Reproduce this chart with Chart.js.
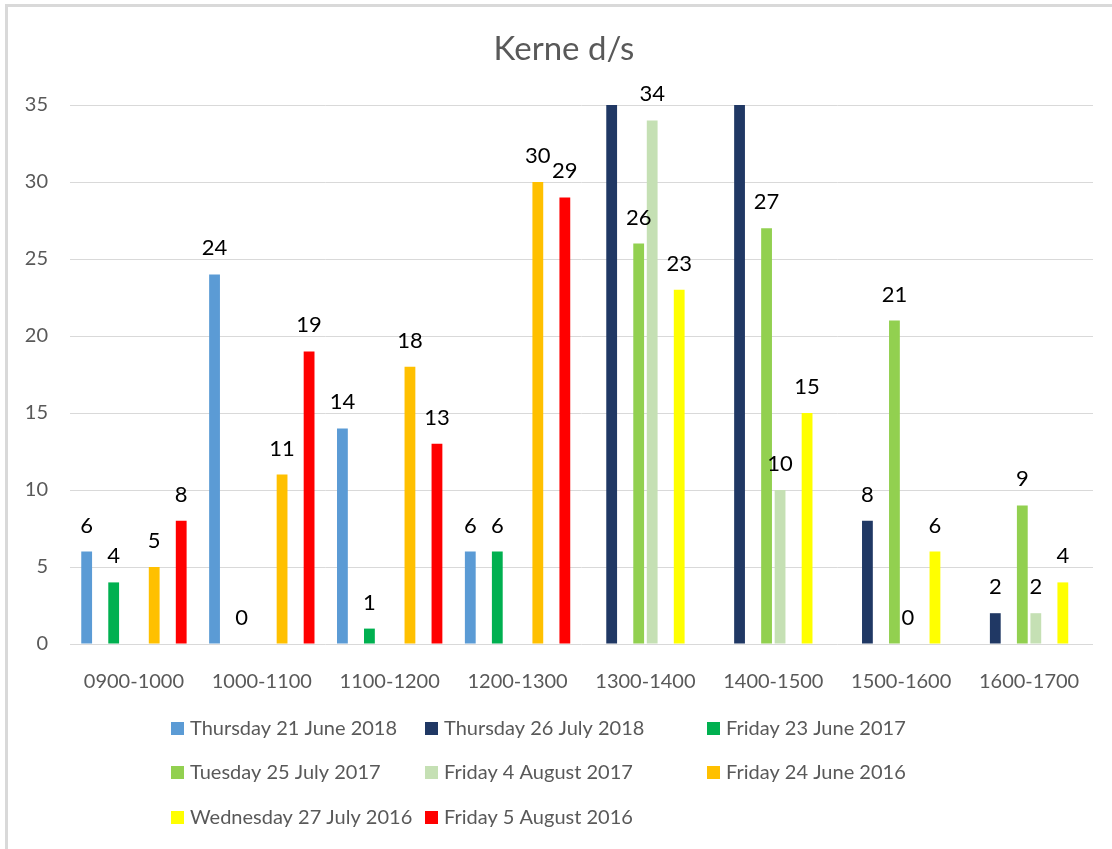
<!DOCTYPE html>
<html>
<head>
<meta charset="utf-8">
<script src="https://cdn.jsdelivr.net/npm/chart.js@4.4.1/dist/chart.umd.min.js"></script>
<style>
  html, body { margin: 0; padding: 0; background: #fff; }
  #chart { display: block; }
</style>
</head>
<body>
<canvas id="chart" width="1112" height="849"></canvas>
<script>
const chartTitle = 'Kerne d/s'
const timeSlots = ['0900-1000', '1000-1100', '1100-1200', '1200-1300', '1300-1400', '1400-1500', '1500-1600', '1600-1700']
const yTicksMax = 35

const seriesNames = [
  'Thursday 21 June 2018', 'Thursday 26 July 2018', 'Friday 23 June 2017',
  'Tuesday 25 July 2017', 'Friday 4 August 2017', 'Friday 24 June 2016',
  'Wednesday 27 July 2016', 'Friday 5 August 2016'
]
const seriesColors = ['#5B9BD5', '#203864', '#00B050', '#92D050', '#C5E0B4', '#FFC000', '#FFFF00', '#FF0000']

// one array per day, null where nothing was counted
const thu21Jun2018 = [6, 24, 14, 6, null, null, null, null]
const thu26Jul2018 = [null, null, null, null, 40, 37, 8, 2]   // first two run off the top of the axis
const fri23Jun2017 = [4, 0, 1, 6, null, null, null, null]
const tue25Jul2017 = [null, null, null, null, 26, 27, 21, 9]
const fri4Aug2017 = [null, null, null, null, 34, 10, 0, 2]
const fri24Jun2016 = [5, 11, 18, 30, null, null, null, null]
const wed27Jul2016 = [null, null, null, null, 23, 15, 6, 4]
const fri5Aug2016 = [8, 19, 13, 29, null, null, null, null]

const seriesValues = [thu21Jun2018, thu26Jul2018, fri23Jun2017, tue25Jul2017, fri4Aug2017, fri24Jun2016, wed27Jul2016, fri5Aug2016]

const greyText = '#595959'
const fontFamily = 'Lato, Carlito, Calibri, sans-serif'

// legend laid out in three columns like the original
const legendCols = [171, 425, 707]
const legendRows = [729, 773, 818]

const framePlugin = {
  id: 'frame',
  beforeDraw(chart) {
    const ctx = chart.ctx
    ctx.save()
    ctx.fillStyle = '#fff'
    ctx.fillRect(0, 0, chart.width, chart.height)
    ctx.strokeStyle = '#D9D9D9'
    ctx.lineWidth = 3
    ctx.strokeRect(6.5, 5.5, 1200, 1000)
    ctx.restore()
  },
  afterDraw(chart) {
    const ctx = chart.ctx
    ctx.save()
    // title
    ctx.fillStyle = greyText
    ctx.font = '33px ' + fontFamily
    ctx.textAlign = 'center'
    ctx.textBaseline = 'middle'
    ctx.fillText(chartTitle, 564, 49)

    // legend
    ctx.font = '20px ' + fontFamily
    ctx.textAlign = 'left'
    chart.data.datasets.forEach((ds, i) => {
      const x = legendCols[i % 3]
      const y = legendRows[Math.floor(i / 3)]
      ctx.fillStyle = ds.backgroundColor
      ctx.fillRect(x, y - 7, 13, 13)
      ctx.fillStyle = greyText
      ctx.fillText(ds.label, x + 19, y)
    })
    ctx.restore()
  }
}

const barLabels = {
  id: 'barLabels',
  afterDatasetsDraw(chart) {
    const ctx = chart.ctx
    ctx.save()
    ctx.fillStyle = '#000'
    ctx.font = '22px ' + fontFamily
    ctx.textAlign = 'center'
    ctx.textBaseline = 'middle'
    chart.data.datasets.forEach((ds, i) => {
      const meta = chart.getDatasetMeta(i)
      meta.data.forEach((bar, j) => {
        const v = ds.data[j]
        if (v == null || v > yTicksMax) return
        ctx.fillText(String(v), bar.x, bar.y - 26)
      })
    })
    ctx.restore()
  }
}

const ctx = document.getElementById('chart').getContext('2d')

new Chart(ctx, {
  type: 'bar',
  data: {
    labels: timeSlots,
    datasets: seriesNames.map((name, i) => ({
      label: name,
      data: seriesValues[i],
      backgroundColor: seriesColors[i],
      borderWidth: 0,
      categoryPercentage: 0.845,
      barPercentage: 0.8
    }))
  },
  options: {
    responsive: false,
    animation: false,
    devicePixelRatio: 1,
    layout: { padding: { top: 105, right: 19, bottom: 145, left: 0 } },
    plugins: {
      legend: { display: false },
      title: { display: false },
      tooltip: { enabled: false }
    },
    scales: {
      x: {
        grid: { display: false },
        border: { display: false },
        ticks: { color: greyText, font: { family: fontFamily, size: 20 }, padding: 18, maxRotation: 0 },
        afterFit: scale => { scale.height = 60 }
      },
      y: {
        min: 0,
        max: yTicksMax,
        grid: { color: '#D9D9D9', drawTicks: false },
        border: { display: false },
        ticks: { stepSize: 5, color: greyText, font: { family: fontFamily, size: 20 }, padding: 22 },
        afterFit: scale => { scale.width = 70 }
      }
    }
  },
  plugins: [framePlugin, barLabels]
})
</script>
</body>
</html>
